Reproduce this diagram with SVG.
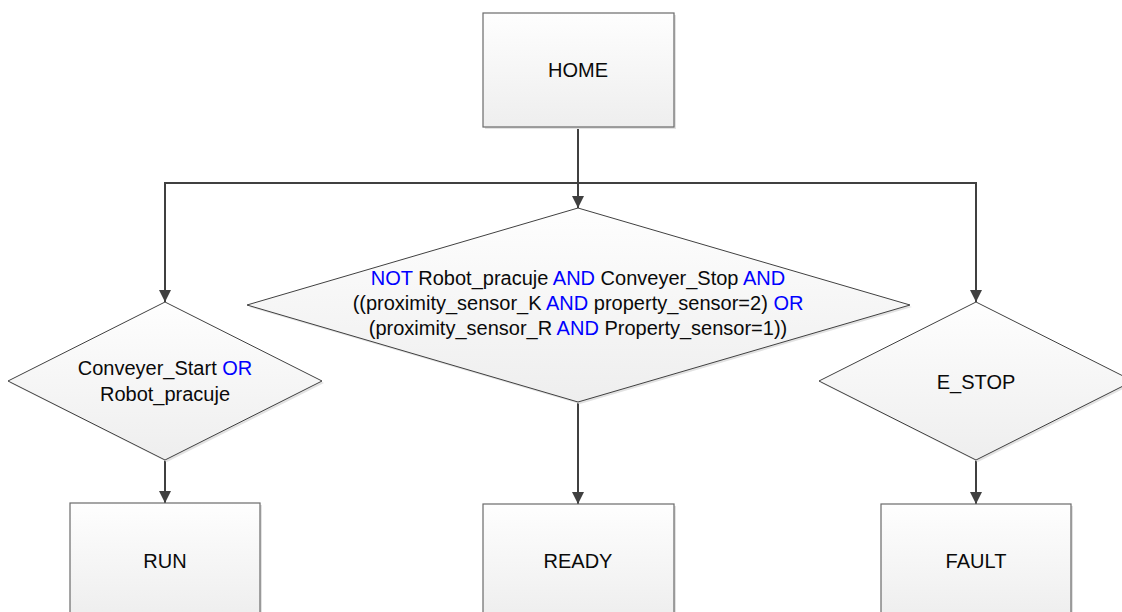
<svg xmlns="http://www.w3.org/2000/svg" width="1122" height="612" viewBox="0 0 1122 612">
  <defs>
    <linearGradient id="fillGrad" x1="0" y1="0" x2="0" y2="1">
      <stop offset="0" stop-color="#fefefe"/>
      <stop offset="1" stop-color="#eeeeee"/>
    </linearGradient>
    <marker id="arrow" viewBox="0 0 12 12" refX="12" refY="6" markerWidth="12" markerHeight="12" markerUnits="userSpaceOnUse" orient="auto">
      <path d="M0,0 L12,6 L0,12 z" fill="#404040"/>
    </marker>
  </defs>
  <style>
    .box { fill: url(#fillGrad); stroke: #6a6a6a; stroke-width: 1.2; }
    .dia { fill: url(#fillGrad); stroke: #404040; stroke-width: 1; }
    .shadow { fill: #e2e2e2; }
    .link { fill: none; stroke: #404040; stroke-width: 2; }
    text { font-family: "Liberation Sans", Arial, sans-serif; font-size: 20px; fill: #0a0a0a; text-anchor: middle; }
    .kw { fill: #0000ff; }
  </style>

  <rect width="1122" height="612" fill="#ffffff"/>

  <!-- connectors -->
  <g id="connectors">
    <path class="link" d="M578,127 V208" marker-end="url(#arrow)"/>
    <path class="link" d="M578,183 H165 V302" marker-end="url(#arrow)"/>
    <path class="link" d="M578,183 H976 V302" marker-end="url(#arrow)"/>
    <path class="link" d="M165,460 V503" marker-end="url(#arrow)"/>
    <path class="link" d="M578,402 V504" marker-end="url(#arrow)"/>
    <path class="link" d="M976,460 V504" marker-end="url(#arrow)"/>
  </g>

  <!-- HOME state -->
  <g id="home">
    <rect class="shadow" x="485" y="15" width="191" height="114"/>
    <rect class="box" x="483" y="13" width="191" height="114"/>
    <text x="578" y="77">HOME</text>
  </g>

  <!-- condition: to RUN -->
  <g id="cond-run">
    <polygon class="shadow" points="167,304 324,383 167,462 10,383"/>
    <polygon class="dia" points="165,302 322,381 165,460 8,381"/>
    <text x="165" y="375">Conveyer_Start <tspan class="kw">OR</tspan></text>
    <text x="165" y="401">Robot_pracuje</text>
  </g>

  <!-- condition: to READY -->
  <g id="cond-ready">
    <polygon class="shadow" points="580,210 912,307 580,404 249,307"/>
    <polygon class="dia" points="578,208 910,305 578,402 247,305"/>
    <text x="578" y="285"><tspan class="kw">NOT</tspan> Robot_pracuje <tspan class="kw">AND</tspan> Conveyer_Stop <tspan class="kw">AND</tspan></text>
    <text x="578" y="310">((proximity_sensor_K <tspan class="kw">AND</tspan> property_sensor=2) <tspan class="kw">OR</tspan></text>
    <text x="578" y="335">(proximity_sensor_R <tspan class="kw">AND</tspan> Property_sensor=1))</text>
  </g>

  <!-- condition: to FAULT -->
  <g id="cond-fault">
    <polygon class="shadow" points="978,304 1135,383 978,462 821,383"/>
    <polygon class="dia" points="976,302 1133,381 976,460 819,381"/>
    <text x="976" y="389">E_STOP</text>
  </g>

  <!-- RUN state -->
  <g id="run">
    <rect class="shadow" x="72" y="505" width="190" height="114"/>
    <rect class="box" x="70" y="503" width="190" height="114"/>
    <text x="165" y="568">RUN</text>
  </g>

  <!-- READY state -->
  <g id="ready">
    <rect class="shadow" x="485" y="506" width="191" height="114"/>
    <rect class="box" x="483" y="504" width="191" height="114"/>
    <text x="578" y="568">READY</text>
  </g>

  <!-- FAULT state -->
  <g id="fault">
    <rect class="shadow" x="883" y="506" width="190" height="114"/>
    <rect class="box" x="881" y="504" width="190" height="114"/>
    <text x="976" y="568">FAULT</text>
  </g>
</svg>
